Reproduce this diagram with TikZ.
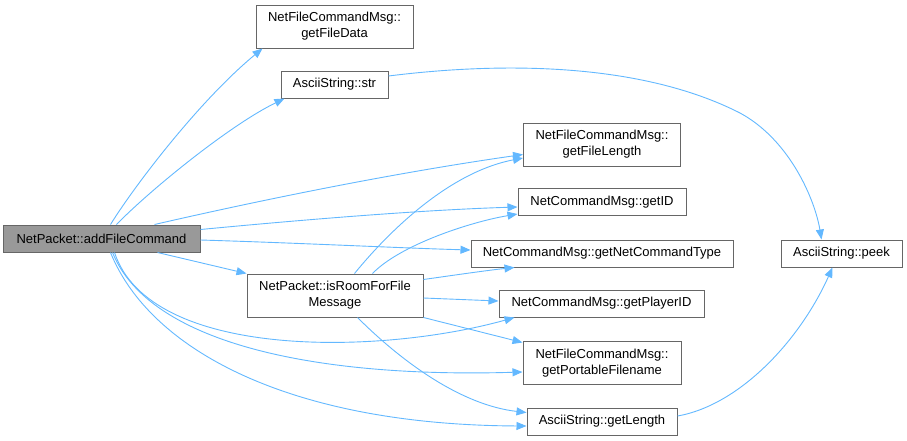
\documentclass[tikz,border=0pt]{standalone}
\usepackage{fontspec}
\setmainfont{Liberation Sans}
\usetikzlibrary{arrows.meta}
\definecolor{edgec}{HTML}{63B8FF}
\definecolor{bordc}{HTML}{666666}
\definecolor{rootc}{HTML}{999999}
\begin{document}
\begin{tikzpicture}[x=1pt,y=-1pt,
  fn/.style={draw=bordc,line width=1pt,fill=white,inner sep=0pt,align=center,
    font=\fontsize{13}{16}\selectfont},
  one/.style={fn,minimum height=27pt},
  two/.style={fn,minimum height=43pt},
  edge/.style={draw=edgec,line width=0.9pt,-{Triangle[length=10pt,width=8pt]}}]
\useasboundingbox (0,0) rectangle (907,440);
\node[one,fill=rootc,minimum width=197pt] (add) at (101.5,238.5) {NetPacket::addFileCommand};
\node[two,minimum width=157pt] (fd) at (334.5,26.5) {NetFileCommandMsg::\\getFileData};
\node[one,minimum width=107pt] (str) at (334.5,84.5) {AsciiString::str};
\node[two,minimum width=176pt] (room) at (335,295.5) {NetPacket::isRoomForFile\\Message};
\node[two,minimum width=157pt] (fl) at (602,144.5) {NetFileCommandMsg::\\getFileLength};
\node[one,minimum width=168pt] (id) at (602,202) {NetCommandMsg::getID};
\node[one,minimum width=262pt] (nct) at (602,253.5) {NetCommandMsg::getNetCommandType};
\node[one,minimum width=205pt] (pid) at (601.5,303.5) {NetCommandMsg::getPlayerID};
\node[two,minimum width=158pt] (pf) at (602,363) {NetFileCommandMsg::\\getPortableFilename};
\node[one,minimum width=150pt] (len) at (602,421.5) {AsciiString::getLength};
\node[one,minimum width=121pt] (peek) at (841.5,253.5) {AsciiString::peek};
% from addFileCommand
\draw[edge] ([shift={(108,0)}]add.north west) .. controls (135,185) and (200,100) .. ([shift={(7,0)}]fd.south west);
\draw[edge] ([shift={(114,0)}]add.north west) .. controls (150,190) and (230,125) .. ([shift={(4,0)}]str.south west);
\draw[edge] ([shift={(152,0)}]add.north west) .. controls (270,198) and (400,172) .. ([shift={(0,10)}]fl.west);
\draw[edge] ([shift={(0,-9)}]add.east) .. controls (300,220) and (420,210) .. ([shift={(0,5)}]id.west);
\draw[edge] ([shift={(0,1.5)}]add.east) .. controls (300,243) and (400,248) .. ([shift={(0,-3.5)}]nct.west);
\draw[edge] ([shift={(155,0)}]add.south west) -- (room.north west);
\draw[edge] ([shift={(112,0)}]add.south west) .. controls (150,360) and (380,355) .. ([shift={(16,0)}]pid.south west);
\draw[edge] ([shift={(110,0)}]add.south west) .. controls (150,345) and (320,378) .. ([shift={(0,9)}]pf.west);
\draw[edge] ([shift={(108,0)}]add.south west) .. controls (150,350) and (290,425) .. ([shift={(0,4.5)}]len.west);
% from isRoomForFileMessage
\draw[edge] ([shift={(108,0)}]room.north west) .. controls (390,230) and (450,172) .. ([shift={(0,13.5)}]fl.west);
\draw[edge] ([shift={(126,0)}]room.north west) .. controls (400,245) and (470,222) .. ([shift={(0,12)}]id.west);
\draw[edge] ([shift={(0,6)}]room.north east) .. controls (455,275) and (490,270) .. ([shift={(44,0)}]nct.south west);
\draw[edge] ([shift={(0,2.5)}]room.east) -- ([shift={(0,-2.5)}]pid.west);
\draw[edge] (room.south east) -- ([shift={(0,1.5)}]pf.north west);
\draw[edge] ([shift={(111,0)}]room.south west) .. controls (400,360) and (460,405) .. ([shift={(0,5)}]len.north west);
% to peek
\draw[edge] ([shift={(0,-8.5)}]str.east) .. controls (500,62) and (640,62) .. (740,113) .. controls (790,140) and (815,200) .. ([shift={(41,0)}]peek.north west);
\draw[edge] ([shift={(0,-5.5)}]len.east) .. controls (740,405) and (800,340) .. ([shift={(52,0)}]peek.south west);
\end{tikzpicture}
\end{document}
